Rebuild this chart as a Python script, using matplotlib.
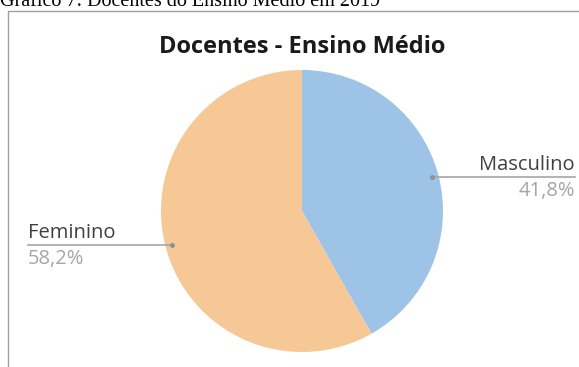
import numpy as np
import matplotlib
matplotlib.use("Agg")
import matplotlib.pyplot as plt
from matplotlib.lines import Line2D

# data
labels = ["Masculino", "Feminino"]
values = [41.8, 58.2]
pct_labels = ["41,8%", "58,2%"]
colors = ["#9DC3E6", "#F6C896"]
title = "Docentes - Ensino Médio"
caption = "Gráfico 7: Docentes do Ensino Médio em 2019"

W, H = 579, 367
fig = plt.figure(figsize=(W / 100, H / 100), dpi=100)
fig.patch.set_facecolor("white")

# pie placement (pixels)
cx, cy, r = 302, 211, 141
ax = fig.add_axes([(cx - r) / W, 1 - (cy + r) / H, 2 * r / W, 2 * r / H])
wedges, _ = ax.pie(values, colors=colors, startangle=90, counterclock=False,
                   wedgeprops=dict(linewidth=0))
ax.set_xlim(-1, 1)
ax.set_ylim(-1, 1)
ax.set_aspect("equal")
ax.axis("off")

# leader lines + labels
text_x = [(575 - cx) / r, (28 - cx) / r]
for w, name, pct, tx in zip(wedges, labels, pct_labels, text_x):
    ang = np.deg2rad((w.theta1 + w.theta2) / 2)
    px, py = 0.95 * np.cos(ang), 0.95 * np.sin(ang)
    ha = "right" if tx > 0 else "left"
    ax.plot([px, tx], [py, py], color="#a6a6a6", lw=1.2, clip_on=False)
    ax.plot([px], [py], marker="o", ms=2.5, color="#909090", clip_on=False)
    ax.annotate(name, (tx, py), xytext=(0, 7), textcoords="offset pixels",
                ha=ha, va="baseline", fontsize=14.5, family="Open Sans", color="#404040",
                annotation_clip=False)
    ax.annotate(pct, (tx, py), xytext=(0, -19), textcoords="offset pixels",
                ha=ha, va="baseline", fontsize=14.5, family="Open Sans", color="#a6a6a6",
                annotation_clip=False)

# title
fig.text(cx / W, 1 - 53 / H, title, ha="center", va="baseline",
         fontsize=17, fontweight="bold", family="Open Sans", color="#1a1a1a")

# cut-off caption above the chart box
fig.text(0, 1 - 6 / H, caption, ha="left", va="baseline",
         fontsize=14.5, family="Liberation Serif", color="black")

# chart box border
fig.add_artist(Line2D([8 / W, 8 / W, 1], [0, 1 - 11 / H, 1 - 11 / H],
                      transform=fig.transFigure, color="#a0a0a0", lw=1))

fig.savefig("out.png", dpi=100)
